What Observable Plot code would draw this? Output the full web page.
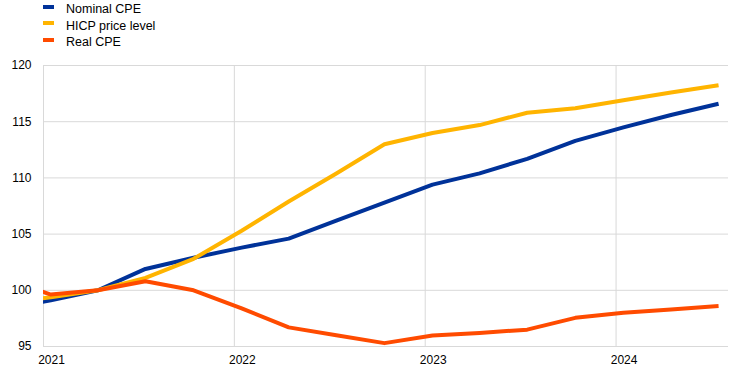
<!DOCTYPE html>
<html>
<head>
<meta charset="utf-8">
<script src="https://cdn.jsdelivr.net/npm/d3@7"></script>
<script src="https://cdn.jsdelivr.net/npm/@observablehq/plot@0.6"></script>
<style>
  html, body { margin: 0; padding: 0; background: #fff; }
  body { width: 744px; height: 373px; overflow: hidden; font-family: "Liberation Sans", Arial, sans-serif; }
  #legend { position: relative; height: 52px; font-size: 12.5px; color: #000; }
  .swatch { position: absolute; left: 43px; width: 11px; height: 4px; }
  .label { position: absolute; left: 66px; white-space: nowrap; line-height: 14px; }
</style>
</head>
<body>
<div id="legend"></div>
<div id="chart"></div>
<script>
// Quarterly observations (first one lies before the axis start and is clipped)
const quarters = ["2020-10-15","2021-01-15","2021-04-15","2021-07-15","2021-10-15",
  "2022-01-15","2022-04-15","2022-07-15","2022-10-15",
  "2023-01-15","2023-04-15","2023-07-15","2023-10-15",
  "2024-01-15","2024-04-15","2024-07-15"];
const nominalCPE = [98.3, 99.12, 100.0, 101.9, 102.9, 103.8, 104.6, 106.2, 107.8, 109.4, 110.4, 111.7, 113.3, 114.5, 115.6, 116.6];
const hicpLevel  = [98.9, 99.38, 100.0, 101.1, 102.8, 105.3, 107.9, 110.4, 113.0, 114.0, 114.7, 115.8, 116.2, 116.9, 117.6, 118.25];
const realCPE    = [101.1, 99.62, 100.0, 100.8, 100.0, 98.4, 96.7, 96.0, 95.3, 95.98, 96.2, 96.5, 97.55, 98.0, 98.3, 98.6];

const seriesNames  = ["Nominal CPE", "HICP price level", "Real CPE"];
const seriesColors = ["#003299", "#FFB400", "#FF4B00"];
const yTicks = [95, 100, 105, 110, 115, 120];
const xTickYears = ["2021-01-01", "2022-01-01", "2023-01-01", "2024-01-01"];
const xDomain = ["2021-01-01", "2024-08-03"];

const seriesValues = [nominalCPE, hicpLevel, realCPE];
const data = [];
seriesNames.forEach((name, i) => {
  quarters.forEach((q, j) => data.push({series: name, date: new Date(q), value: seriesValues[i][j]}));
});
const xTicks = xTickYears.map(d => new Date(d));

// Legend
const legend = document.getElementById("legend");
const rowCenters = [9, 25.7, 42.4];
seriesNames.forEach((name, i) => {
  const sw = document.createElement("div");
  sw.className = "swatch";
  sw.style.background = seriesColors[i];
  sw.style.top = (rowCenters[i] - 4.5) + "px";
  legend.appendChild(sw);
  const lb = document.createElement("div");
  lb.className = "label";
  lb.textContent = name;
  lb.style.top = (rowCenters[i] - 7) + "px";
  legend.appendChild(lb);
});

const chart = Plot.plot({
  width: 744,
  height: 321,
  marginTop: 13,
  marginBottom: 27,
  marginLeft: 43,
  marginRight: 16,
  style: {fontFamily: "'Liberation Sans', Arial, sans-serif", fontSize: "12px", color: "#000", background: "#fff", overflow: "visible"},
  x: {type: "utc", domain: xDomain.map(d => new Date(d))},
  y: {domain: [95, 120]},
  marks: [
    Plot.gridY(yTicks, {stroke: "#d9d9d9", strokeOpacity: 1, strokeWidth: 1}),
    Plot.gridX(xTicks, {stroke: "#d9d9d9", strokeOpacity: 1, strokeWidth: 1}),
    Plot.axisY(yTicks, {tickSize: 0, tickPadding: 12, label: null, fill: "#000"}),
    Plot.axisX(xTicks, {tickSize: 0, tickPadding: 9, dx: 8, label: null, tickFormat: d3.utcFormat("%Y"), fill: "#000"}),
    ...seriesNames.map((name, i) => Plot.line(data.filter(d => d.series === name), {
      x: "date", y: "value", stroke: seriesColors[i], strokeWidth: 4,
      strokeLinejoin: "round", strokeLinecap: "butt", clip: true
    }))
  ]
});
document.getElementById("chart").appendChild(chart);
</script>
</body>
</html>
